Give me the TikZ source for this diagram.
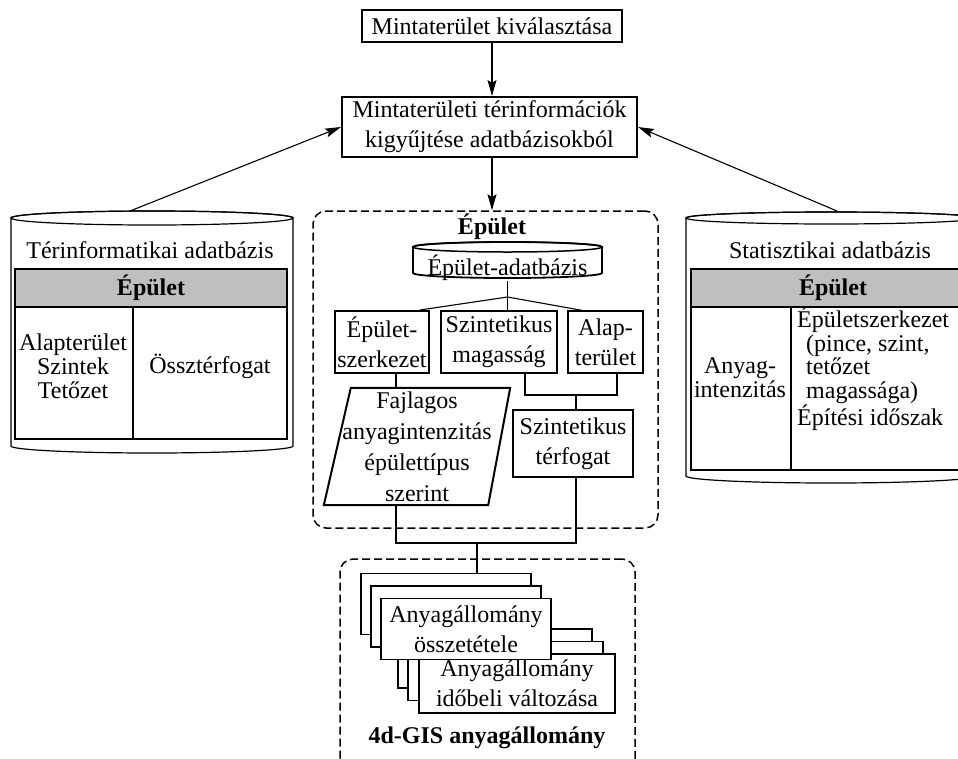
\documentclass[tikz,border=0pt]{standalone}
\usepackage{fontspec}
\setmainfont{Liberation Serif}
\usetikzlibrary{calc,arrows.meta}
\begin{document}
\begin{tikzpicture}[x=1pt,y=-1pt,
  every node/.style={font=\fontsize{24}{30}\selectfont, inner sep=0pt},
  thickbox/.style={draw, line width=2pt, fill=white, align=center},
  thinbox/.style={draw, line width=1.1pt, fill=white, align=center},
  stackbox/.style={draw, line width=1.5pt, fill=white, align=center},
  conn/.style={line width=1.1pt},
  arr/.style={conn, -{Stealth[length=16pt,width=9pt,inset=3pt]}},
  dbox/.style={draw, line width=1.5pt, dash pattern=on 8pt off 4pt, rounded corners=13pt},
  tabline/.style={draw, line width=1.4pt},
  tabtext/.style={font=\fontsize{24}{24}\selectfont, align=center},
  hdr/.style={font=\fontsize{24}{24}\selectfont\bfseries},
  cyl/.style={draw, line width=1.2pt, fill=white}
]
\clip (0,0) rectangle (958,758);
\fill[white] (0,0) rectangle (958,758);

% top boxes
\node[thickbox, minimum width=260pt, minimum height=32pt] (sel) at (492,26) {Mintaterület kiválasztása};
\node[thickbox, minimum width=295pt, minimum height=60pt] (coll) at (489.5,127) {Mintaterületi térinformációk\\kigyűjtése adatbázisokból};

% left cylinder
\path[cyl] (11,218) -- (11,446) arc[start angle=180, end angle=360, x radius=141pt, y radius=7pt] -- (293,218) arc[start angle=0, end angle=180, x radius=141pt, y radius=7pt] -- cycle;
\draw[line width=1.2pt] (152,218) ellipse[x radius=141pt, y radius=7pt];
\coordinate (ltop) at (130,211);
\node (ltitle) at (150,250) {Térinformatikai adatbázis};
\node[tabline, fill=black!25, minimum width=272pt, minimum height=38pt, hdr] (lhdr) at (151,288) {Épület};
\node[tabline, minimum width=118pt, minimum height=132pt] (lc1) at (74,373) {};
\node[tabline, minimum width=154pt, minimum height=132pt] (lc2) at (210,373) {};
\node[tabtext] (lt1) at (73,366) {Alapterület\\Szintek\\Tetőzet};
\node[tabtext] (lt2) at (210,366) {Össztérfogat};

% right cylinder
\path[cyl] (686,218) -- (686,476) arc[start angle=180, end angle=360, x radius=145pt, y radius=7pt] -- (976,218) arc[start angle=0, end angle=180, x radius=145pt, y radius=6pt] -- cycle;
\draw[line width=1.2pt] (831,218) ellipse[x radius=145pt, y radius=6pt];
\coordinate (rtop) at (837,211);
\node (rtitle) at (830,250) {Statisztikai adatbázis};
\node[tabline, fill=black!25, minimum width=284pt, minimum height=38pt, hdr] (rhdr) at (833,288) {Épület};
\node[tabline, minimum width=100pt, minimum height=163pt] (rc1) at (741,388.5) {};
\node[tabline, minimum width=184pt, minimum height=163pt] (rc2) at (883,388.5) {};
\node[tabtext] (rt1) at (740,378) {Anyag-\\intenzitás};
\node[font=\fontsize{24}{23.5}\selectfont, align=left, anchor=north west] (rt2) at (797,307)
  {Épületszerkezet\\\hspace*{9pt}(pince, szint,\\\hspace*{9pt}tetőzet\\\hspace*{9pt}magassága)\\Építési időszak};

% arrows at top
\draw[arr] (sel.south) -- (sel.south |- coll.north);
\draw[arr] (ltop) -- (coll.west);
\draw[arr] (rtop) -- (coll.east);

% building dashed box
\node[dbox, minimum width=345pt, minimum height=317pt] (bld) at (485.5,369.5) {};
\draw[arr] (sel.south |- coll.south) -- (sel.south |- bld.north);
\node[font=\fontsize{24}{30}\selectfont\bfseries] (bldt) at (492,227) {Épület};

% Epulet-adatbazis cylinder
\path[draw, line width=1.8pt, fill=white] (413,247) -- (413,273) arc[start angle=180, end angle=360, x radius=94.5pt, y radius=5pt] -- (602,247) arc[start angle=0, end angle=180, x radius=94.5pt, y radius=5pt] -- cycle;
\draw[line width=1.5pt] (507.5,247) ellipse[x radius=94.5pt, y radius=5pt];
\node[minimum width=189pt, minimum height=20pt] (db) at (507.5,268) {Épület-adatbázis};

\coordinate (j1) at (507.5,297);
\node[thickbox, minimum width=94pt, minimum height=62pt] (A) at (382,342) {Épület-\\szerkezet};
\node[thickbox, minimum width=116pt, minimum height=62pt] (B) at (499,342) {Szintetikus\\magasság};
\node[thinbox, minimum width=75pt, minimum height=62pt] (C) at (605.5,342) {Alap-\\terület};
\draw[conn] (db.south) -- (j1);
\draw[conn] (j1) -- ($(A.north)+(38,0)$);
\draw[conn] (j1) -- (j1 |- B.north);
\draw[conn] (j1) -- ($(C.north)+(-23,0)$);

% parallelogram
\node[minimum width=186pt, minimum height=117pt, align=center, font=\fontsize{24}{31}\selectfont] (P) at (417,446.5) {Fajlagos\\anyagintenzitás\\épülettípus\\szerint};
\draw[line width=2pt, line join=miter] ($(P.north west)+(27,0)$) -- (P.north east) -- ($(P.south east)+(-22,0)$) -- (P.south west) -- cycle;
\coordinate (ap) at ($(A.south)+(14,0)$);
\draw[conn] (ap) -- (ap |- P.north);

% synthetic volume
\node[thinbox, minimum width=120pt, minimum height=67pt] (D) at (573,443.5) {Szintetikus\\térfogat};
\coordinate (bc) at (576,395);
\draw[conn] ($(B.south)+(26,0)$) |- (bc) -| ($(C.south)+(11.5,0)$);
\draw[conn] (bc) -- (bc |- D.north);

% bottom connectors
\coordinate (pb) at ($(P.south)+(-21,0)$);
\coordinate (dd) at ($(D.south)+(3,0)$);
\coordinate (jb) at (477,543);
\draw[conn] (pb) |- (jb) -| (dd);

% 4d-GIS box
\node[dbox, minimum width=295pt, minimum height=216pt] (gis) at (487.5,667) {};
\node[stackbox, minimum width=194pt, minimum height=59pt] (g2a) at (495,658.5) {};
\node[stackbox, minimum width=195pt, minimum height=59pt] (g2b) at (505.5,671) {};
\node[stackbox, minimum width=196pt, minimum height=59pt] (g2c) at (517,683.5) {Anyagállomány\\időbeli változása};
\node[stackbox, minimum width=170pt, minimum height=61pt] (g1a) at (446,604) {};
\node[stackbox, minimum width=170pt, minimum height=61pt] (g1b) at (456,616.5) {};
\node[stackbox, minimum width=170pt, minimum height=61pt] (g1c) at (466,629) {Anyagállomány\\összetétele};
\draw[conn] (jb) -- (jb |- g1a.north);
\node[font=\fontsize{24}{30}\selectfont\bfseries] (gist) at (487,738) {4d-GIS anyagállomány};
\end{tikzpicture}
\end{document}
